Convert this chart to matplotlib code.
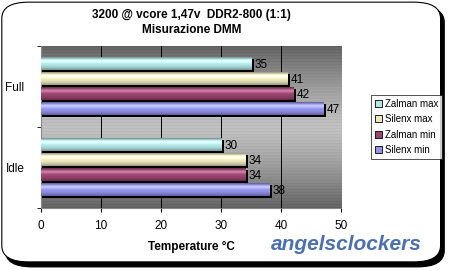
import numpy as np
import matplotlib.pyplot as plt
import matplotlib.colors as mcolors
from matplotlib.patches import FancyBboxPatch, Rectangle

plt.rcParams['font.family'] = ['Liberation Sans', 'DejaVu Sans']

categories = ['Idle', 'Full']
series = ['Zalman max', 'Silenx max', 'Zalman min', 'Silenx min']
values = {
    'Zalman max': [30, 35],
    'Silenx max': [34, 41],
    'Zalman min': [34, 42],
    'Silenx min': [38, 47],
}
colors = ['#b4e6e6', '#eeeac0', '#9c4470', '#9494ec']
xticks = [0, 10, 20, 30, 40, 50]

fig = plt.figure(figsize=(4.5, 2.7), dpi=100)

# rounded frame with shadow
shadow = FancyBboxPatch((0.012, 0.012), 0.975, 0.965, boxstyle='round,pad=0,rounding_size=0.06',
                        transform=fig.transFigure, facecolor='black', edgecolor='black', zorder=0)
frame = FancyBboxPatch((0.004, 0.03), 0.975, 0.962, boxstyle='round,pad=0,rounding_size=0.06',
                       transform=fig.transFigure, facecolor='white', edgecolor='black', lw=0.8, zorder=1)
fig.patches.extend([shadow, frame])

ax = fig.add_axes([0.091, 0.23, 0.667, 0.60])
ax.set_zorder(2)

# gradient background, dark at top and bottom
g = np.abs(np.linspace(-1, 1, 160))
g = 0.76 - 0.36 * g ** 1.3
stripes = 0.03 * (np.arange(160) % 3 == 0)
bg = np.clip(g - stripes, 0, 1)[:, None] * np.ones((1, 10))
ax.imshow(bg, cmap='gray', vmin=0, vmax=1, aspect='auto',
          extent=[0, 50, -0.5, 1.5], zorder=0, interpolation='bilinear')

step = 0.185
h = 0.155
for i, s in enumerate(series):
    c = np.array(mcolors.to_rgb(colors[i]))
    for j, cat in enumerate(categories):
        v = values[s][j]
        yc = j + (1.5 - i) * step
        # shadow
        ax.add_patch(Rectangle((0, yc - h / 2 - 0.02), v + 0.5, h, facecolor='black', zorder=2))
        # cylindrical shading
        t = np.linspace(-1, 1, 30)
        shade = 1 - 0.35 * t ** 2
        light = np.clip(c[None, :] * shade[:, None] + 0.25 * np.exp(-((t + 0.45) / 0.3) ** 2)[:, None], 0, 1)
        ax.imshow(light[:, None, :], aspect='auto', extent=[0, v, yc - h / 2, yc + h / 2],
                  zorder=3, interpolation='bilinear')
        ax.text(v + 0.6, yc - 0.01, str(v), va='center', ha='left', fontsize=8.5, zorder=5)

ax.set_xlim(0, 50)
ax.set_ylim(-0.5, 1.5)
ax.set_xticks(xticks)
ax.set_xticklabels([str(x) for x in xticks], fontsize=8.5)
ax.set_yticks([0, 1])
ax.set_yticklabels(categories, fontsize=8.5)
ax.set_yticks([-0.5, 0.5, 1.5], minor=True)
ax.tick_params(axis='y', which='major', length=0, pad=12)
ax.tick_params(axis='y', which='minor', length=3, direction='out')
ax.tick_params(axis='x', length=3, direction='out', pad=6)
ax.grid(axis='x', color='black', lw=0.7, zorder=1)
ax.set_axisbelow(True)
for sp in ['top', 'right']:
    ax.spines[sp].set_visible(False)
ax.spines['left'].set_color('#888888')
ax.spines['bottom'].set_color('#888888')

ax.set_xlabel('Temperature °C', fontsize=8.5, fontweight='bold', labelpad=6)

fig.text(0.425, 0.945, '3200 @ vcore 1,47v  DDR2-800 (1:1)', ha='center', va='center',
         fontsize=8.5, fontweight='bold', zorder=3)
fig.text(0.425, 0.888, 'Misurazione DMM', ha='center', va='center',
         fontsize=8.5, fontweight='bold', zorder=3)

handles = [Rectangle((0, 0), 1, 1, facecolor=colors[i], edgecolor='black', lw=0.6) for i in range(4)]
leg = fig.legend(handles, series, loc='center left', bbox_to_anchor=(0.825, 0.53),
                 fontsize=7, frameon=True, fancybox=False, edgecolor='black',
                 handlelength=0.7, handleheight=0.7, handletextpad=0.3, borderpad=0.4,
                 labelspacing=0.55, borderaxespad=0)
leg.get_frame().set_linewidth(0.6)
leg.set_zorder(4)

fig.text(0.77, 0.095, 'angelsclockers', ha='center', va='center', fontsize=15,
         fontweight='bold', style='italic', color='#4a70b0', zorder=3)

fig.savefig('out.png', dpi=100)
